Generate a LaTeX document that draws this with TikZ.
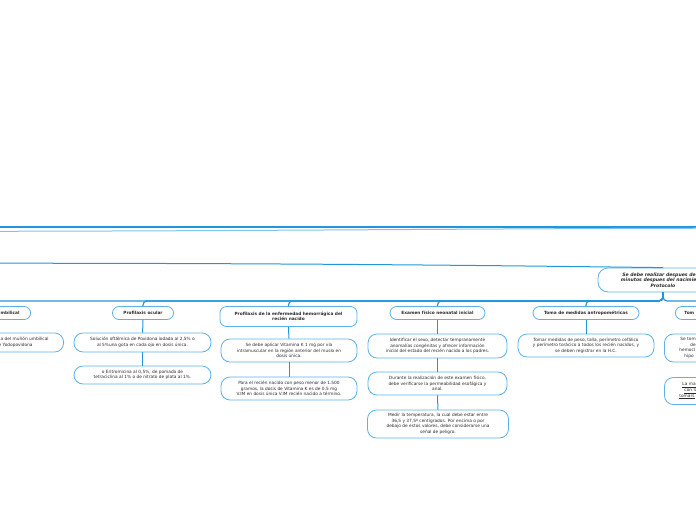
\documentclass[tikz,border=0pt]{standalone}
\usepackage{fontspec}
\setmainfont{DejaVu Sans}
\definecolor{lnk}{HTML}{2296DC}
\definecolor{lnklight}{HTML}{7CC4EE}
\definecolor{bdr}{HTML}{5CB2E6}
\definecolor{txt}{HTML}{2A2A2A}
\tikzset{
  box/.style={draw=bdr, line width=0.8pt, fill=white, rounded corners=9pt, align=center,
    text=txt, font=\fontsize{4.3}{5.6}\selectfont, inner sep=0pt},
  ttl/.style={box, rounded corners=6.5pt, font=\bfseries\fontsize{4.3}{5.6}\selectfont},
  ctr/.style={box, rounded corners=10pt, font=\bfseries\itshape\fontsize{4.6}{5.7}\selectfont},
  conn/.style={draw=lnk, line width=1pt},
  bus/.style={draw=lnk, line width=1.2pt, rounded corners=4pt},
}
\begin{document}
\begin{tikzpicture}[x=1pt,y=-1pt]
\useasboundingbox (0,0) rectangle (696,520);

% long connectors passing through
\coordinate (pl1) at (-20,226.5);
\coordinate (pr1) at (716,226.5);
\coordinate (pl2) at (-20,231.3);
\coordinate (pr2) at (716,228.2);
\coordinate (pl3) at (-20,263.2);
\draw[conn, line width=2pt] (pl1) -- (pr1);
\draw[draw=lnklight, line width=1pt] (pl2) .. controls (250,231) and (480,228.6) .. (pr2);

% central node
\node[ctr, minimum width=130pt, minimum height=24pt] (c) at (663,280)
  {Se debe realizar despues de 60\\minutos despues del nacimiento\\Protocolo};
\draw[conn] (pl3) .. controls (350,263.2) and (560,266.5) .. (c.north);

% level 1 titles
\node[ttl, anchor=east, minimum width=70pt, minimum height=13pt, text width=48pt, align=right] (t1) at (31,313) {mbilical};
\node[ttl, minimum width=61pt, minimum height=13pt] (t2) at (143,313) {Profilaxis ocular};
\node[ttl, minimum width=137pt, minimum height=20pt] (t3) at (288.5,316.5) {Profilaxis de la enfermedad hemorrágica del\\recién nacido};
\node[ttl, minimum width=95pt, minimum height=13pt] (t4) at (437.5,313) {Examen físico neonatal inicial};
\node[ttl, minimum width=106pt, minimum height=13pt] (t5) at (586,313) {Toma de medidas antropométricas};
\node[ttl, anchor=west, minimum width=70pt, minimum height=13pt, text width=52pt, align=left] (t6) at (675,313) {Tom};

% bus connectors from central node
\foreach \t in {t1,t2,t3,t4,t5,t6}{
  \draw[bus] (c.south) -- ++(0,8.5) -| (\t.north);
}

% level 2 nodes
\node[box, anchor=east, minimum width=137pt, minimum height=19pt, text width=121pt, align=right] (s1a) at (64,342.5)
  {a del muñón umbilical\kern7pt\\e Yodopovidona\kern23pt};
\node[box, minimum width=137pt, minimum height=19pt] (s2a) at (142.5,342.5)
  {Solución oftálmica de Povidona iodada al 2,5\% o\\al 5\%una gota en cada ojo en dosis única.};
\node[box, minimum width=137pt, minimum height=18pt] (s2b) at (142.5,375)
  {o Eritromicina al 0,5\%, de pomada de\\tetraciclina al 1\% o de nitrato de plata al 1\%.};
\node[box, minimum width=136pt, minimum height=23pt] (s3a) at (289,350.5)
  {Se debe aplicar Vitamina K 1 mg por vía\\intramuscular en la región anterior del muslo en\\dosis única.};
\node[box, minimum width=136pt, minimum height=23pt] (s3b) at (289,388.5)
  {Para el recién nacido con peso menor de 1.500\\gramos, la dosis de Vitamina K es de 0,5 mg\\V.IM en dosis única V.IM recién nacido a término.};
\node[box, minimum width=139pt, minimum height=24pt] (s4a) at (437.5,346)
  {Identificar el sexo, detectar tempranamente\\anomalías congénitas y ofrecer información\\inicial del estado del recién nacido a los padres.};
\node[box, minimum width=139pt, minimum height=23pt] (s4b) at (437.5,383.5)
  {Durante la realización de este examen físico,\\debe verificarse la permeabilidad esofágica y\\anal.};
\node[box, minimum width=141pt, minimum height=28pt] (s4c) at (438,424)
  {Medir la temperatura, la cual debe estar entre\\36,5 y 37,5º centígrados. Por encima o por\\debajo de estos valores, debe considerarse una\\señal de peligro.};
\node[box, minimum width=136pt, minimum height=23pt] (s5a) at (586,345.5)
  {Tomar medidas de peso, talla, perímetro cefálico\\y perímetro torácico a todos los recién nacidos, y\\se deben registrar en la H.C.};
\node[box, anchor=west, minimum width=137pt, minimum height=28pt, text width=121pt, align=left] (s6a) at (664,348)
  {\hspace*{8pt}Se tom\\\hspace*{18pt}de\\\hspace*{7pt}hemocl\\\hspace*{12pt}hipo};
\node[box, anchor=west, minimum width=137pt, minimum height=27pt, text width=121pt, align=left] (s6b) at (664,391)
  {\hspace*{10pt}\underline{La ma}\\\hspace*{12pt}\underline{con la}\\\hspace*{7pt}\underline{tomars}};

% vertical connectors
\draw[conn] (t1) -- (s1a.north -| t1.south);
\draw[conn] (t2) -- (s2a);
\draw[conn] (s2a) -- (s2b);
\draw[conn] (t3) -- (s3a);
\draw[conn] (s3a) -- (s3b);
\draw[conn] (t4) -- (s4a);
\draw[conn] (s4a) -- (s4b);
\draw[conn] (s4b) -- (s4c);
\draw[conn] (t5) -- (s5a);
\draw[conn] (t6) -- (s6a.north -| t6.south);
\draw[conn] (s6a) -- (s6b);
\end{tikzpicture}
\end{document}
